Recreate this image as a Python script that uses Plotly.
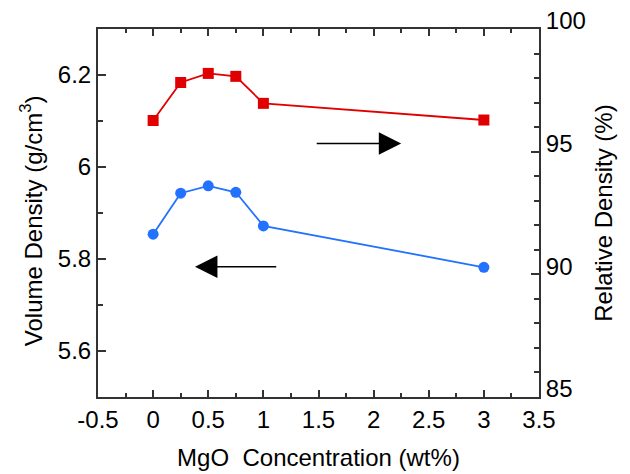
import plotly.graph_objects as go

# MgO content (wt%)
mgo = [0, 0.25, 0.5, 0.75, 1, 3]
# Bulk (volume) density, g/cm^3  -> left axis
volume_density = [5.854, 5.943, 5.959, 5.945, 5.872, 5.782]
# Relative density, %  -> right axis
relative_density = [96.27, 97.82, 98.19, 98.07, 96.97, 96.29]

x_ticks = [-0.5, 0, 0.5, 1, 1.5, 2, 2.5, 3, 3.5]
x_labels = ["-0.5", "0", "0.5", "1", "1.5", "2", "2.5", "3", "3.5"]
y_ticks = [5.6, 5.8, 6.0, 6.2]
y_labels = ["5.6", "5.8", "6", "6.2"]
y2_ticks = [85, 90, 95, 100]

RED = "#e10000"
BLUE = "#2272ff"
AXIS = "#333333"
FONT = "Liberation Sans, Arial, sans-serif"

fig = go.Figure()

fig.add_trace(go.Scatter(
    x=mgo, y=volume_density, mode="lines+markers",
    line=dict(color=BLUE, width=1.8),
    marker=dict(symbol="circle", size=11, color=BLUE),
    yaxis="y", showlegend=False,
))
fig.add_trace(go.Scatter(
    x=mgo, y=relative_density, mode="lines+markers",
    line=dict(color=RED, width=1.8),
    marker=dict(symbol="square", size=11, color=RED),
    yaxis="y2", showlegend=False,
))

tick_font = dict(family=FONT, size=24, color="black")
title_font = dict(family=FONT, size=24, color="black")

fig.update_layout(
    width=630, height=474,
    margin=dict(l=98, r=91, t=29, b=77),
    paper_bgcolor="white", plot_bgcolor="white",
    font=dict(family=FONT, color="black"),
    xaxis=dict(
        range=[-0.5, 3.5], tickvals=x_ticks, ticktext=x_labels,
        ticks="inside", ticklen=7, tickwidth=1.5, tickcolor=AXIS,
        minor=dict(dtick=0.25, tick0=0, ticks="inside", ticklen=4,
                   tickwidth=1.5, tickcolor=AXIS),
        showline=True, linecolor=AXIS, linewidth=2, mirror="ticks",
        showgrid=False, zeroline=False, tickfont=tick_font,
        automargin=False,
        title=dict(text="MgO  Concentration (wt%)", font=title_font, standoff=17),
    ),
    yaxis=dict(
        range=[5.5, 6.3], tickvals=y_ticks, ticktext=y_labels,
        ticks="inside", ticklen=8, tickwidth=1.5, tickcolor=AXIS,
        minor=dict(dtick=0.1, tick0=5.5, ticks="inside", ticklen=5,
                   tickwidth=1.5, tickcolor=AXIS),
        showline=True, linecolor=AXIS, linewidth=2,
        showgrid=False, zeroline=False, tickfont=tick_font,
        automargin=False,
    ),
    yaxis2=dict(
        range=[85, 100], tickvals=y2_ticks, overlaying="y", side="right",
        ticks="inside", ticklen=8, tickwidth=1.5, tickcolor=AXIS,
        minor=dict(dtick=1, tick0=85, ticks="inside", ticklen=5,
                   tickwidth=1.5, tickcolor=AXIS),
        showline=True, linecolor=AXIS, linewidth=2,
        showgrid=False, zeroline=False, tickfont=tick_font,
        ticklabelshift=-8, automargin=False,
        title=dict(text="Relative Density (%)", font=title_font, standoff=10),
    ),
)

# Left axis title, placed beside the tick labels
fig.add_annotation(text="Volume Density (g/cm<sup>3</sup>)",
                   xref="paper", yref="paper", x=-0.15, y=0.48,
                   xanchor="center", yanchor="middle", textangle=-90,
                   showarrow=False, font=title_font)

# Direction arrows pointing to the axis each curve belongs to
fig.add_annotation(x=2.25, y=6.051, ax=1.47, ay=6.051,
                   xref="x", yref="y", axref="x", ayref="y",
                   showarrow=True, arrowhead=2, arrowsize=2.8, arrowwidth=1.6,
                   arrowcolor="black", text="")
fig.add_annotation(x=0.38, y=5.783, ax=1.13, ay=5.783,
                   xref="x", yref="y", axref="x", ayref="y",
                   showarrow=True, arrowhead=2, arrowsize=2.8, arrowwidth=1.6,
                   arrowcolor="black", text="")

fig.write_html("out.html")
